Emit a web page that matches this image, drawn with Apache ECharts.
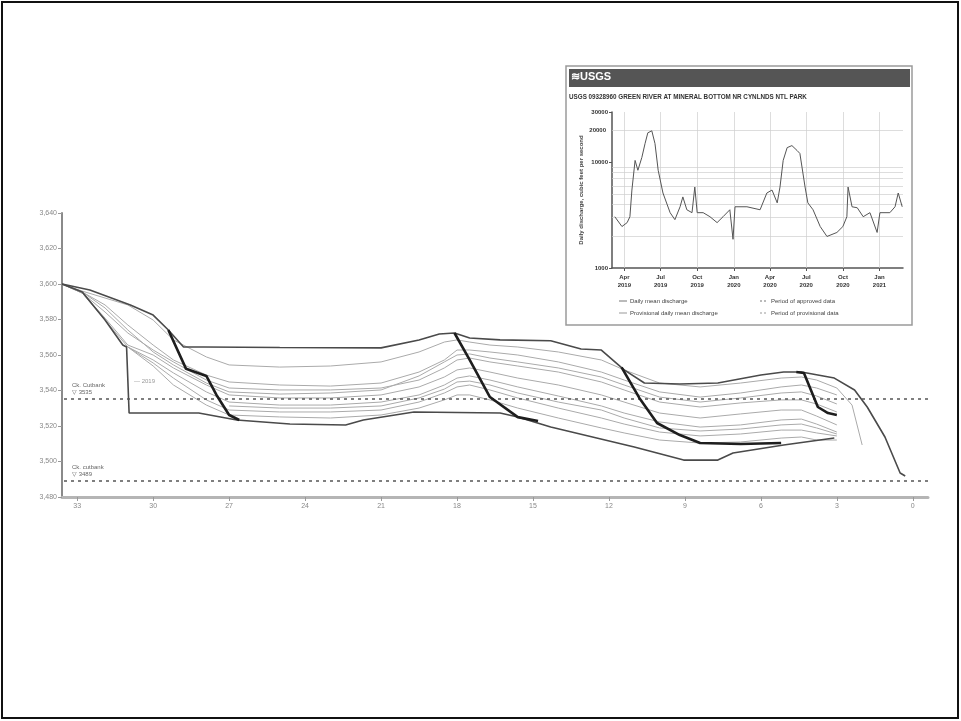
<!DOCTYPE html>
<html>
<head>
<meta charset="utf-8">
<script src="https://cdn.jsdelivr.net/npm/echarts@6/dist/echarts.min.js"></script>
<style>
  html, body { margin: 0; padding: 0; background: #fff; }
  #chart { width: 961px; height: 721px; }
</style>
</head>
<body>
<div id="chart"></div>
<script>
// main profile chart: x ticks count down, y is water surface elevation (ft)
const xTicks = [0, 3, 6, 9, 12, 15, 18, 21, 24, 27, 30, 33]
const yTicks = [3480, 3500, 3520, 3540, 3560, 3580, 3600, 3620, 3640]
const refLevels = [3535.2, 3489]
const refNames = ['Ck. Cutbank', 'Ck. cutbank']

const upperEnvelope = [[33.6,3600],[32.5,3596.6],[30.9,3588.2],[30.0,3582.5],[29.4,3574.1],[28.8,3564.5],[28.0,3564.5],[25.0,3564.2],[21.0,3564.0],[19.5,3568.5],[18.7,3571.8],[18.1,3572.4],[17.5,3569.6],[16.3,3568.5],[14.3,3568.0],[13.1,3563.4],[12.3,3562.8],[11.4,3551.6],[10.6,3544.2],[9.2,3543.7],[7.7,3544.2],[6.0,3548.7],[5.1,3550.4],[4.4,3550.4],[3.1,3547.0],[2.3,3540.3],[1.8,3530.7],[1.1,3513.8],[0.5,3493.5],[0.3,3491.8]]
const lowerEnvelope = [[33.6,3600],[32.8,3595.5],[31.9,3579.7],[31.2,3565.6],[31.05,3564.5],[30.95,3527.3],[28.2,3527.3],[26.7,3523.4],[24.6,3521.1],[22.4,3520.6],[21.7,3523.4],[19.7,3527.9],[16.3,3527.3],[15.6,3525.1],[14.3,3519.4],[11.0,3508.2],[9.05,3500.8],[7.7,3500.8],[7.1,3504.8],[5.1,3509.3],[3.1,3513.2]]

const trace1 = [[33.6,3600],[32.8,3596.0],[31.9,3592.1],[31.0,3588.2],[30.0,3579.7],[29.2,3568.5],[27.9,3558.9],[27.0,3554.4],[25.0,3553.2],[23.0,3553.8],[21.0,3556.1],[19.5,3561.7],[18.5,3567.3],[18.0,3568.5],[17.5,3567.3],[16.7,3565.6],[15.6,3564.5],[14.0,3561.7],[12.3,3557.2],[11.4,3551.6],[10.0,3544.2],[8.4,3542.0],[6.8,3544.2],[5.2,3547.0],[4.4,3547.6],[3.8,3545.9],[3.0,3541.4],[2.4,3531.8],[2.0,3509.3]]
const trace2 = [[33.6,3600],[32.8,3595.5],[31.9,3588.2],[31.0,3576.9],[30.0,3565.6],[29.2,3557.2],[27.9,3548.7],[27.0,3544.8],[25.0,3543.1],[23.0,3542.5],[21.0,3544.2],[19.5,3550.4],[18.5,3557.2],[18.0,3562.8],[17.5,3562.8],[16.7,3561.7],[15.6,3560.0],[14.0,3556.1],[12.3,3550.4],[11.4,3545.9],[10.0,3539.2],[8.4,3536.3],[6.8,3538.6],[5.2,3542.0],[4.4,3543.1],[3.8,3541.4],[3.0,3537.5]]
const trace3 = [[33.6,3600],[32.8,3594.9],[31.9,3584.2],[31.0,3572.4],[30.0,3562.8],[29.2,3556.1],[27.9,3545.9],[27.0,3541.4],[25.0,3540.3],[23.0,3540.3],[21.0,3541.4],[19.5,3545.9],[18.5,3552.7],[18.0,3557.2],[17.5,3558.3],[16.7,3556.1],[15.6,3553.8],[14.0,3550.4],[12.3,3544.8],[11.4,3540.3],[10.0,3533.5],[8.4,3530.7],[6.8,3533.0],[5.2,3534.7],[4.4,3534.7],[3.8,3532.4],[3.0,3527.9]]
const trace4 = [[33.6,3600],[32.8,3594.9],[31.9,3580.8],[31.0,3565.6],[30.0,3560.0],[29.2,3552.7],[27.9,3543.1],[27.0,3537.5],[25.0,3535.8],[23.0,3535.8],[21.0,3537.5],[19.5,3542.0],[18.5,3547.6],[18.0,3551.6],[17.5,3552.7],[16.7,3550.4],[15.6,3547.0],[14.0,3543.1],[12.3,3537.5],[11.4,3533.5],[10.0,3527.3],[8.4,3524.5],[6.8,3526.8],[5.2,3529.0],[4.4,3529.0],[3.8,3525.6],[3.0,3520.6]]
const trace5 = [[33.6,3600],[32.8,3594.9],[31.9,3579.7],[31.0,3564.5],[30.0,3557.2],[29.2,3549.9],[27.9,3539.2],[27.0,3533.5],[25.0,3531.8],[23.0,3531.8],[21.0,3533.5],[19.5,3537.5],[18.5,3543.1],[18.0,3547.0],[17.5,3548.2],[16.7,3545.9],[15.6,3542.0],[14.0,3536.9],[12.3,3531.3],[11.4,3527.3],[10.0,3522.3],[8.4,3519.4],[6.8,3520.6],[5.2,3523.4],[4.4,3523.9],[3.8,3521.1],[3.0,3516.6]]
const trace6 = [[31.0,3564.5],[30.0,3555.5],[29.2,3547.0],[27.9,3534.7],[27.0,3529.0],[25.0,3527.9],[23.0,3527.9],[21.0,3529.0],[19.5,3533.5],[18.5,3538.6],[18.0,3542.0],[17.5,3543.1],[16.7,3540.3],[15.6,3535.8],[14.0,3530.1],[12.3,3524.5],[11.4,3521.1],[10.0,3516.6],[8.4,3514.4],[6.8,3515.5],[5.2,3517.7],[4.4,3517.7],[3.8,3516.1],[3.0,3514.4]]
const trace7 = [[31.0,3564.5],[30.0,3553.8],[29.2,3543.1],[27.9,3531.8],[27.0,3526.2],[25.0,3525.1],[23.0,3524.5],[21.0,3526.2],[19.5,3530.1],[18.5,3534.7],[18.0,3537.5],[17.5,3537.5],[16.7,3534.7],[15.6,3530.1],[14.0,3524.5],[12.3,3518.9],[11.4,3516.1],[10.0,3512.1],[8.4,3510.4],[6.8,3511.0],[5.2,3513.2],[4.4,3513.8],[3.8,3512.1],[3.0,3512.1]]
const trace8 = [[33.6,3600],[32.8,3595.5],[31.9,3586.5],[31.0,3574.1],[30.0,3561.7],[29.2,3554.4],[27.9,3544.2],[27.0,3539.2],[25.0,3538.0],[23.0,3538.6],[21.0,3540.3],[19.5,3548.2],[18.5,3556.1],[18.0,3560.0],[17.5,3560.6],[16.7,3558.3],[15.6,3556.1],[14.0,3552.7],[12.3,3547.6],[11.4,3543.1],[10.0,3536.3],[8.4,3533.5],[6.8,3535.8],[5.2,3538.6],[4.4,3539.2],[3.8,3536.9],[3.0,3532.4]]
const trace9 = [[27.0,3531.3],[25.0,3530.1],[23.0,3530.1],[21.0,3531.3],[19.5,3535.8],[18.5,3540.8],[18.0,3544.8],[17.5,3545.3],[16.7,3543.1],[15.6,3538.6],[14.0,3533.5],[12.3,3529.0],[11.4,3524.5],[10.0,3518.9],[8.4,3517.2],[6.8,3518.3],[5.2,3520.6],[4.4,3521.1],[3.8,3518.9],[3.0,3515.5]]

// the heavy drawdown pieces
const heavy1 = [[29.4,3574.1],[28.7,3552.2],[27.9,3548.2],[27.5,3537.5],[27.0,3526.2],[26.6,3523.4]]
const heavy2 = [[18.1,3572.4],[17.5,3557.2],[16.7,3536.3],[15.6,3525.0],[14.8,3522.8]]
const heavy3 = [[11.5,3553.0],[10.8,3535.8],[10.1,3521.7],[9.2,3514.9],[8.4,3510.4],[6.8,3509.9],[5.2,3510.4]]
const heavy4 = [[4.6,3550.4],[4.3,3549.9],[3.75,3530.7],[3.35,3527.3],[3.0,3526.2]]

// inset hydrograph (USGS daily discharge, log axis)
const flowDates = ['2019-03-08','2019-03-26','2019-04-08','2019-04-15','2019-04-20','2019-04-28','2019-05-05','2019-05-15','2019-05-23','2019-05-30','2019-06-09','2019-06-17','2019-06-25','2019-07-07','2019-07-25','2019-08-06','2019-08-19','2019-08-26','2019-09-05','2019-09-18','2019-09-25','2019-10-01','2019-10-16','2019-11-02','2019-11-20','2019-12-05','2019-12-22','2019-12-30','2020-01-04','2020-02-03','2020-03-07','2020-03-24','2020-04-06','2020-04-19','2020-04-26','2020-05-04','2020-05-14','2020-05-26','2020-06-08','2020-06-15','2020-06-28','2020-07-05','2020-07-18','2020-08-05','2020-08-22','2020-09-16','2020-10-01','2020-10-11','2020-10-14','2020-10-24','2020-11-06','2020-11-21','2020-12-08','2020-12-26','2021-01-02','2021-01-27','2021-02-09','2021-02-17','2021-02-27']
const flowCfs = [3060,2470,2690,3060,5470,10440,8420,11140,15060,19060,19910,15060,8420,5130,3340,2870,3800,4710,3560,3340,5840,3340,3340,3060,2690,3060,3560,1870,3800,3800,3560,5130,5470,4140,5840,10440,13800,14420,12950,12140,5840,4140,3560,2470,1990,2170,2470,3060,5840,3800,3720,3060,3340,2170,3340,3340,3800,5130,3800]
const flowExtraLabel = 20000
const flowGrid = [2000, 3000, 4000, 5000, 6000, 7000, 8000, 9000]
const dateTicks = ['2019-04-01','2019-07-01','2019-10-01','2020-01-01','2020-04-01','2020-07-01','2020-10-01','2021-01-01']
const months = ['Jan','Feb','Mar','Apr','May','Jun','Jul','Aug','Sep','Oct','Nov','Dec']

const font = 'Liberation Sans'
const chart = echarts.init(document.getElementById('chart'), null, { renderer: 'canvas' })

const ts = d => Date.parse(d + 'T00:00:00Z')
const tickTimes = dateTicks.map(ts)

const thin = (data) => ({
  type: 'line', data, xAxisIndex: 0, yAxisIndex: 0, symbol: 'none',
  lineStyle: { color: '#aaaaaa', width: 1 }, z: 2, silent: true
})
const heavy = (data) => ({
  type: 'line', data, xAxisIndex: 0, yAxisIndex: 0, symbol: 'none',
  lineStyle: { color: '#1e1e1e', width: 2.6 }, z: 5, silent: true
})

const option = {
  animation: false,
  textStyle: { fontFamily: font },
  grid: [
    { left: 62, top: 213, right: 33, bottom: 224 },
    { left: 612, top: 112, width: 291, height: 156, show: true, borderColor: '#777', borderWidth: 1 }
  ],
  xAxis: [
    {
      gridIndex: 0, type: 'value', inverse: true, min: -0.6, max: 33.6,
      axisLine: { onZero: false, lineStyle: { color: '#b5b5b5', width: 3 } },
      axisTick: { customValues: xTicks, length: 4, lineStyle: { color: '#999' } },
      axisLabel: { customValues: xTicks, fontSize: 7, color: '#888', margin: 6 },
      splitLine: { show: false }
    },
    {
      // time stamps on a plain value axis so the quarter ticks can be placed exactly
      gridIndex: 1, type: 'value', min: ts('2019-03-01'), max: ts('2021-03-01'),
      axisLine: { onZero: false, lineStyle: { color: '#555', width: 1.5 } },
      axisTick: { customValues: tickTimes, length: 3, lineStyle: { color: '#555' } },
      axisLabel: {
        customValues: tickTimes, fontSize: 6, fontWeight: 'bold', color: '#333', margin: 5, lineHeight: 8,
        formatter: v => { const d = new Date(v); return months[d.getUTCMonth()] + '\n' + d.getUTCFullYear() }
      },
      splitLine: { show: false }
    }
  ],
  yAxis: [
    {
      gridIndex: 0, type: 'value', position: 'left', min: 3480, max: 3640, interval: 20,
      axisLine: { show: true, onZero: false, lineStyle: { color: '#8a8a8a', width: 2 } },
      axisTick: { show: true, length: 4, lineStyle: { color: '#999' } },
      axisLabel: { fontSize: 7, color: '#888', margin: 5, formatter: v => v.toLocaleString('en-US') },
      splitLine: { show: false }
    },
    {
      gridIndex: 1, type: 'log', logBase: 10, min: 1000, max: 30000, position: 'left',
      axisLine: { show: true, onZero: false, lineStyle: { color: '#555', width: 1.5 } },
      axisTick: { show: true, length: 3 },
      axisLabel: { fontSize: 6, fontWeight: 'bold', color: '#333', margin: 4, formatter: v => String(Math.round(v)) },
      splitLine: { show: false },
      name: 'Daily discharge, cubic feet per second', nameLocation: 'middle', nameGap: 28,
      nameTextStyle: { fontSize: 6, fontWeight: 'bold', color: '#444' }
    }
  ],
  series: [
    thin(trace1), thin(trace2), thin(trace3), thin(trace4), thin(trace5),
    thin(trace6), thin(trace7), thin(trace8), thin(trace9),
    {
      type: 'line', data: upperEnvelope, symbol: 'none', silent: true, z: 4,
      lineStyle: { color: '#4a4a4a', width: 1.6 },
      markLine: {
        silent: true, symbol: 'none',
        lineStyle: { color: '#555', type: [3, 4], width: 1.6 },
        label: {
          position: 'insideEndTop', fontSize: 6, color: '#666', lineHeight: 7, distance: [10, 3], align: 'left',
          formatter: p => refNames[refLevels.indexOf(p.value)] + '\n▽ ' + Math.round(p.value)
        },
        data: refLevels.map(v => ({ yAxis: v }))
      }
    },
    {
      type: 'line', data: lowerEnvelope, symbol: 'none', silent: true, z: 4,
      lineStyle: { color: '#4a4a4a', width: 1.6 }
    },
    heavy(heavy1), heavy(heavy2), heavy(heavy3), heavy(heavy4),
    {
      type: 'line', xAxisIndex: 1, yAxisIndex: 1, symbol: 'none', silent: true, z: 6,
      data: flowDates.map((d, i) => [ts(d), flowCfs[i]]),
      lineStyle: { color: '#555', width: 1 },
      markLine: {
        silent: true, symbol: 'none', label: { show: false },
        lineStyle: { color: '#cfcfcf', type: 'solid', width: 0.7 },
        data: flowGrid.map(v => ({ yAxis: v }))
          .concat(tickTimes.map(t => ({ xAxis: t })))
          .concat([{
            yAxis: flowExtraLabel,
            label: { show: true, position: 'start', fontSize: 6, fontWeight: 'bold', color: '#333', distance: 6, formatter: String(flowExtraLabel) }
          }])
      }
    }
  ],
  graphic: [
    { type: 'rect', z: -1, shape: { x: 2, y: 2, width: 956, height: 716 }, style: { fill: 'none', stroke: '#111', lineWidth: 2 } },
    { type: 'rect', z: 0, shape: { x: 566, y: 66, width: 346, height: 259 }, style: { fill: '#fff', stroke: '#9a9a9a', lineWidth: 1.5 } },
    { type: 'rect', z: 1, shape: { x: 569, y: 69, width: 341, height: 18 }, style: { fill: '#555' } },
    { type: 'text', z: 2, x: 571, y: 71, style: { text: '≋USGS', fill: '#fff', font: 'bold 11px ' + font } },
    { type: 'text', z: 2, x: 569, y: 94, style: { text: 'USGS 09328960 GREEN RIVER AT MINERAL BOTTOM NR CYNLNDS NTL PARK', fill: '#333', font: 'bold 6.3px ' + font } },
    { type: 'line', z: 2, shape: { x1: 619, y1: 301, x2: 627, y2: 301 }, style: { stroke: '#777', lineWidth: 1 } },
    { type: 'text', z: 2, x: 630, y: 298, style: { text: 'Daily mean discharge', fill: '#444', font: '6px ' + font } },
    { type: 'line', z: 2, shape: { x1: 619, y1: 313, x2: 627, y2: 313 }, style: { stroke: '#999', lineWidth: 1 } },
    { type: 'text', z: 2, x: 630, y: 310, style: { text: 'Provisional daily mean discharge', fill: '#444', font: '6px ' + font } },
    { type: 'line', z: 2, shape: { x1: 760, y1: 301, x2: 768, y2: 301 }, style: { stroke: '#777', lineWidth: 1, lineDash: [2, 2] } },
    { type: 'text', z: 2, x: 771, y: 298, style: { text: 'Period of approved data', fill: '#444', font: '6px ' + font } },
    { type: 'line', z: 2, shape: { x1: 760, y1: 313, x2: 768, y2: 313 }, style: { stroke: '#999', lineWidth: 1, lineDash: [2, 2] } },
    { type: 'text', z: 2, x: 771, y: 310, style: { text: 'Period of provisional data', fill: '#444', font: '6px ' + font } },
    { type: 'text', z: 2, x: 134, y: 378, style: { text: '— 2019', fill: '#999', font: '6px ' + font } }
  ]
}

chart.setOption(option)
</script>
</body>
</html>
